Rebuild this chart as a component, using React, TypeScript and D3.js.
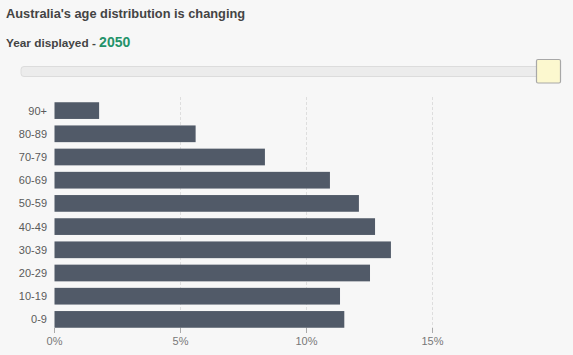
import React from "react";
import * as d3 from "d3";

const ageGroups = ["90+", "80-89", "70-79", "60-69", "50-59", "40-49", "30-39", "20-29", "10-19", "0-9"];
const shares = [1.77, 5.6, 8.35, 10.93, 12.08, 12.72, 13.35, 12.52, 11.33, 11.5];
const xTicks = [0, 5, 10, 15];
const title = "Australia's age distribution is changing";
const yearLabel = "Year displayed - ";
const year = "2050";

const W = 573;
const H = 355;

export default function App() {
  const x = d3.scaleLinear().domain([0, 15]).range([54.5, 432.5]);
  const y = d3.scaleBand<string>().domain(ageGroups).range([99, 331]).paddingInner(0.28).paddingOuter(0.14);
  const font = "'Liberation Sans', Arial, Helvetica, sans-serif";
  return (
    <svg
      width={W}
      height={H}
      style={{ position: "absolute", left: 0, top: 0, background: "#f7f7f7", fontFamily: font }}
    >
      <rect x={0} y={0} width={W} height={H} fill="#f7f7f7" />
      <text x={6} y={18} fontSize={12.8} fontWeight="bold" fill="#444">{title}</text>
      <text x={6} y={47} fontSize={11.8} fontWeight="bold" fill="#444">
        {yearLabel}
        <tspan fontSize={14} fill="#24936a">{year}</tspan>
      </text>
      {/* slider */}
      <rect x={21} y={66.5} width={520} height={10} rx={3} fill="#ececec" stroke="#dcdcdc" />
      <rect x={536.5} y={59.5} width={24} height={23.5} rx={1.5} fill="#fcf8cf" stroke="#a8a8a8" strokeWidth={1.2} />
      {/* gridlines */}
      {xTicks.map((t) => (
        <g key={t}>
          {t > 0 && (
            <line x1={x(t)} x2={x(t)} y1={97} y2={333} stroke="#dedede" strokeDasharray="3,2" />
          )}
          <line x1={x(t)} x2={x(t)} y1={328} y2={333} stroke="#aaa" />
          <text x={x(t)} y={345} textAnchor="middle" fontSize={11} fill="#777">{t + "%"}</text>
        </g>
      ))}
      {ageGroups.map((g, i) => (
        <g key={g}>
          <rect
            x={x(0)}
            y={y(g)!}
            width={x(shares[i]) - x(0)}
            height={y.bandwidth()}
            fill="#515a68"
          />
          <text
            x={47}
            y={y(g)! + y.bandwidth() / 2 + 4}
            textAnchor="end"
            fontSize={11}
            fill="#5a5a5a"
          >
            {g}
          </text>
        </g>
      ))}
    </svg>
  );
}
